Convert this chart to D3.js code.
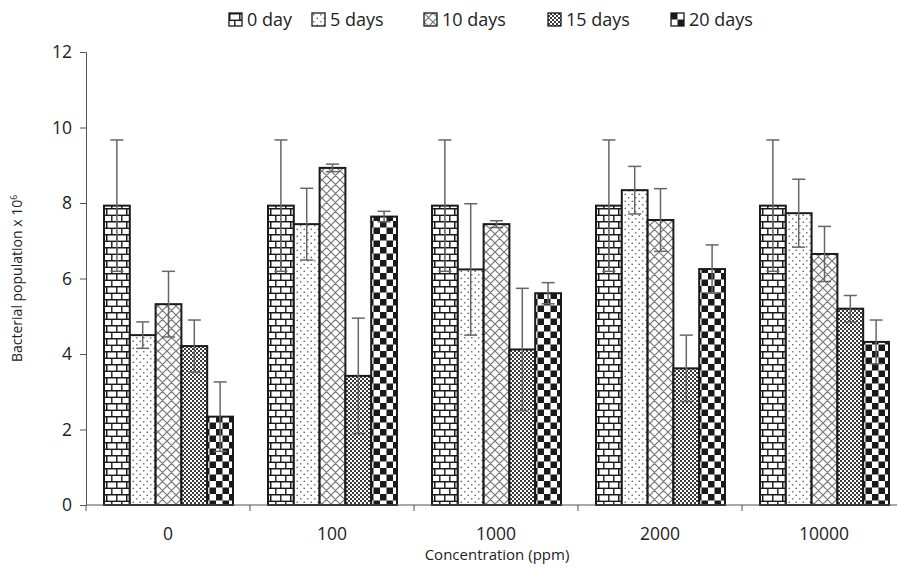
<!DOCTYPE html>
<html>
<head>
<meta charset="utf-8">
<script src="https://cdn.jsdelivr.net/npm/d3@7"></script>
<style>
  body { margin: 0; background: #fff; }
  svg text { font-family: "Open Sans", sans-serif; fill: #222; }
</style>
</head>
<body>
<svg id="chart" width="897" height="568"></svg>
<script>
// Concentrations on the x axis, storage times as series.
const concentrations = ["0", "100", "1000", "2000", "10000"];
const series = ["0 day", "5 days", "10 days", "15 days", "20 days"];

// Mean bacterial population (x 10^6), one array per series, in concentration order.
const day0  = [7.93, 7.93, 7.93, 7.93, 7.93];
const day5  = [4.50, 7.44, 6.24, 8.34, 7.73];
const day10 = [5.32, 8.93, 7.44, 7.55, 6.65];
const day15 = [4.21, 3.42, 4.12, 3.62, 5.20];
const day20 = [2.34, 7.64, 5.61, 6.25, 4.32];

// Standard deviations for the error bars.
const err0  = [1.74, 1.74, 1.74, 1.74, 1.74];
const err5  = [0.35, 0.95, 1.74, 0.63, 0.90];
const err10 = [0.87, 0.10, 0.09, 0.83, 0.73];
const err15 = [0.69, 1.53, 1.62, 0.88, 0.35];
const err20 = [0.92, 0.14, 0.28, 0.64, 0.58];

const yTicks = [0, 2, 4, 6, 8, 10, 12];

const means = [day0, day5, day10, day15, day20];
const errs  = [err0, err5, err10, err15, err20];

const rows = [];
concentrations.forEach((c, ci) => {
  series.forEach((s, si) => {
    rows.push({conc: c, series: s, si: si, value: means[si][ci], err: errs[si][ci]});
  });
});

const svg = d3.select("#chart");

// plot box
const plotLeft = 86, plotBottom = 505, plotTop = 52;

const x0 = d3.scaleBand().domain(concentrations).range([plotLeft, plotLeft + 164 * 5]).padding(0);
const x1 = d3.scaleBand().domain(series).range([18, 147]).padding(0);
const y = d3.scaleLinear().domain([0, 12]).range([plotBottom, plotTop]);

// ---- fill patterns -------------------------------------------------------
const defs = svg.append("defs");

function pattern(id, w, h){
  return defs.append("pattern").attr("id", id)
    .attr("patternUnits", "userSpaceOnUse")
    .attr("width", w).attr("height", h);
}

// bricks
let p = pattern("p0", 20, 13);
p.append("rect").attr("width", 20).attr("height", 13).attr("fill", "#1a1a1a");
[[1.5, 1.5], [11.5, 1.5], [-3.5, 8], [6.5, 8], [16.5, 8]].forEach(d => {
  p.append("rect").attr("x", d[0]).attr("y", d[1]).attr("width", 8.6).attr("height", 5.1).attr("fill", "#fff");
});

// sparse dots
p = pattern("p1", 7, 7);
p.append("rect").attr("width", 7).attr("height", 7).attr("fill", "#fff");
p.append("circle").attr("cx", 1.75).attr("cy", 1.75).attr("r", 0.85).attr("fill", "#666");
p.append("circle").attr("cx", 5.25).attr("cy", 5.25).attr("r", 0.85).attr("fill", "#666");

// diagonal cross hatch
p = pattern("p2", 9, 9);
p.append("rect").attr("width", 9).attr("height", 9).attr("fill", "#fff");
p.append("path").attr("d", "M0,0L9,9M9,0L0,9M-1,8L1,10M8,-1L10,1M-1,1L1,-1M8,10L10,8")
  .attr("stroke", "#777").attr("stroke-width", 1.2).attr("fill", "none");

// fine checker
p = pattern("p3", 4, 4);
p.append("rect").attr("width", 4).attr("height", 4).attr("fill", "#3a3a3a");
p.append("rect").attr("x", 0).attr("y", 0).attr("width", 2).attr("height", 2).attr("fill", "#fff");
p.append("rect").attr("x", 2).attr("y", 2).attr("width", 2).attr("height", 2).attr("fill", "#fff");

// large checker
p = pattern("p4", 13, 13);
p.append("rect").attr("width", 13).attr("height", 13).attr("fill", "#fff");
p.append("rect").attr("x", 0).attr("y", 0).attr("width", 6.5).attr("height", 6.5).attr("fill", "#1a1a1a");
p.append("rect").attr("x", 6.5).attr("y", 6.5).attr("width", 6.5).attr("height", 6.5).attr("fill", "#1a1a1a");

// ---- axes ----------------------------------------------------------------
const yAxis = d3.axisLeft(y).tickValues(yTicks).tickSize(6).tickPadding(8);
svg.append("g").attr("class", "y-axis").attr("transform", `translate(${plotLeft},0)`).call(yAxis)
  .call(g => g.select(".domain").attr("stroke", "#555"))
  .call(g => g.selectAll(".tick line").attr("stroke", "#555"))
  .call(g => g.selectAll(".tick text").attr("font-size", 17.5).attr("font-family", "Open Sans").attr("fill", "#222"));

// bars
const groups = svg.append("g").attr("class", "data")
  .selectAll("g").data(concentrations).join("g")
  .attr("transform", d => `translate(${x0(d)},0)`);

groups.selectAll("rect")
  .data(c => rows.filter(r => r.conc === c))
  .join("rect")
  .attr("x", d => x1(d.series))
  .attr("y", d => y(d.value))
  .attr("width", x1.bandwidth())
  .attr("height", d => y(0) - y(d.value))
  .attr("fill", d => `url(#p${d.si})`)
  .attr("stroke", "#1a1a1a")
  .attr("stroke-width", 2);

// error bars
const eb = groups.selectAll("g.err")
  .data(c => rows.filter(r => r.conc === c))
  .join("g").attr("class", "err")
  .attr("stroke", "#666").attr("stroke-width", 1.5);
eb.append("line")
  .attr("x1", d => x1(d.series) + x1.bandwidth() / 2)
  .attr("x2", d => x1(d.series) + x1.bandwidth() / 2)
  .attr("y1", d => y(d.value - d.err))
  .attr("y2", d => y(d.value + d.err));
[d => d.value + d.err, d => d.value - d.err].forEach(f => {
  eb.append("line")
    .attr("x1", d => x1(d.series) + x1.bandwidth() / 2 - 6.5)
    .attr("x2", d => x1(d.series) + x1.bandwidth() / 2 + 6.5)
    .attr("y1", d => y(f(d)))
    .attr("y2", d => y(f(d)));
});

// x axis: labels centred in the bands, ticks on the band edges
const xAxis = d3.axisBottom(x0).tickSize(0).tickPadding(23);
svg.append("g").attr("class", "x-axis").attr("transform", `translate(0,${plotBottom})`).call(xAxis)
  .call(g => g.select(".domain").remove())
  .call(g => g.selectAll(".tick text").attr("font-size", 17.5).attr("font-family", "Open Sans").attr("fill", "#222"));

const xg = svg.append("g").attr("stroke", "#555");
xg.append("line").attr("x1", plotLeft).attr("x2", 897).attr("y1", plotBottom).attr("y2", plotBottom);
xg.selectAll("line.edge")
  .data(concentrations.map(c => x0(c)).concat([x0.range()[1]]))
  .join("line").attr("class", "edge")
  .attr("x1", d => d).attr("x2", d => d)
  .attr("y1", plotBottom).attr("y2", plotBottom + 6);

// axis titles
svg.append("text")
  .attr("transform", `translate(22,${(plotTop + plotBottom) / 2}) rotate(-90)`)
  .attr("text-anchor", "middle")
  .attr("font-size", 14)
  .html('Bacterial population x 10<tspan dy="-5" font-size="8.5">6</tspan>');

svg.append("text")
  .attr("x", 497).attr("y", 560)
  .attr("text-anchor", "middle")
  .attr("font-size", 15)
  .text("Concentration (ppm)");

// legend
const legendX = [229, 312, 424, 548, 671];
const legend = svg.append("g").attr("class", "legend")
  .selectAll("g").data(series).join("g")
  .attr("transform", (d, i) => `translate(${legendX[i]},13)`);
legend.append("rect")
  .attr("width", 13).attr("height", 13)
  .attr("fill", (d, i) => `url(#p${i})`)
  .attr("stroke", "#1a1a1a").attr("stroke-width", 1.3);
legend.append("text")
  .attr("x", 18).attr("y", 13)
  .attr("font-size", 18)
  .text(d => d);
</script>
</body>
</html>
